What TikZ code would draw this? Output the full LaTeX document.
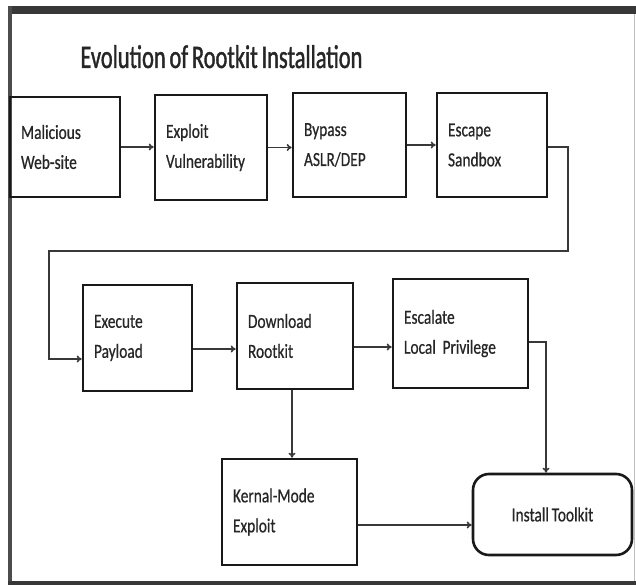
\documentclass[tikz,border=0pt]{standalone}
\usepackage{fontspec}
\setmainfont{Carlito}
\newfontfamily\boxfont[FakeStretch=0.77, WordSpace=0.8, FakeBold=0.6]{Carlito}
\newfontfamily\titlefont[FakeStretch=0.68, WordSpace=0.75, FakeBold=1.2]{Carlito}
\usetikzlibrary{arrows.meta, positioning, calc}

\begin{document}
\begin{tikzpicture}[x=1pt, y=-1pt,
    stage/.style={draw=black!90, line width=2.6pt, inner xsep=11pt, align=left,
      font=\boxfont\fontsize{20}{30}\selectfont, text=black!85},
    link/.style={-{To[length=5pt,width=7pt]}, line width=1.6pt, draw=black!78}]
    \useasboundingbox (0,0) rectangle (636,585);
    \fill[black!78] (8,6) rectangle (636,14);
    \fill[black!70] (8,6) rectangle (12,585);
    \fill[black!78] (8,581) rectangle (636,585);
    \draw[black!25, line width=1pt] (634.5,14) -- (634.5,581);

    \node[anchor=base, font=\titlefont\fontsize{33}{38}\selectfont, text=black!85] (title) at (221.5,68) {Evolution of Rootkit Installation};

    \node[stage, text width=88pt, minimum height=100pt] (site) at (65,147) {Malicious\\Web-site};
    \node[stage, text width=90pt, minimum height=105pt] (expl) at (211,147.5) {Exploit\\Vulnerability};
    \node[stage, text width=91pt, minimum height=104pt] (byp) at (349.5,145) {Bypass\\ASLR/DEP};
    \node[stage, text width=88pt, minimum height=104pt] (esc) at (492,145) {Escape\\Sandbox};
    \node[stage, text width=87pt, minimum height=106pt] (exe) at (137.5,338) {Execute\\Payload};
    \node[stage, text width=94pt, minimum height=106pt] (dl) at (295,336) {Download\\Rootkit};
    \node[stage, text width=113pt, minimum height=109pt] (escl) at (460.5,333.5) {Escalate\\Local Privilege};
    \node[stage, text width=113pt, minimum height=106pt] (kern) at (289.5,512) {Kernal-Mode\\Exploit};
    \node[stage, rounded corners=16pt, align=center, inner xsep=4pt, minimum width=159pt, minimum height=81pt] (inst) at (552.5,514.5) {Install Toolkit};

    \coordinate (backR) at (568,251);
    \coordinate (backL) at (49,251);

    \draw[link] (site.east) -- (site.east -| expl.west);
    \draw[link] (expl.east) -- (expl.east -| byp.west);
    \draw[link] (byp.east) -- (byp.east -| esc.west);
    \draw[link] ([yshift=-2pt]esc.east) -| (backR) -- (backL) |- ([yshift=-21pt]exe.west);
    \draw[link] ([yshift=-11pt]exe.east) -- ([yshift=-11pt]exe.east -| dl.west);
    \draw[link] ([yshift=-11pt]dl.east) -- ([yshift=-11pt]dl.east -| escl.west);
    \draw[link] ([xshift=-3pt]dl.south) -- ([xshift=-3pt]dl.south |- kern.north);
    \draw[link] ([yshift=-8.5pt]escl.east) -| ([xshift=-6.5pt]inst.north);
    \draw[link] ([yshift=-13pt]kern.east) -- ([yshift=-13pt]kern.east -| inst.west);
\end{tikzpicture}
\end{document}
